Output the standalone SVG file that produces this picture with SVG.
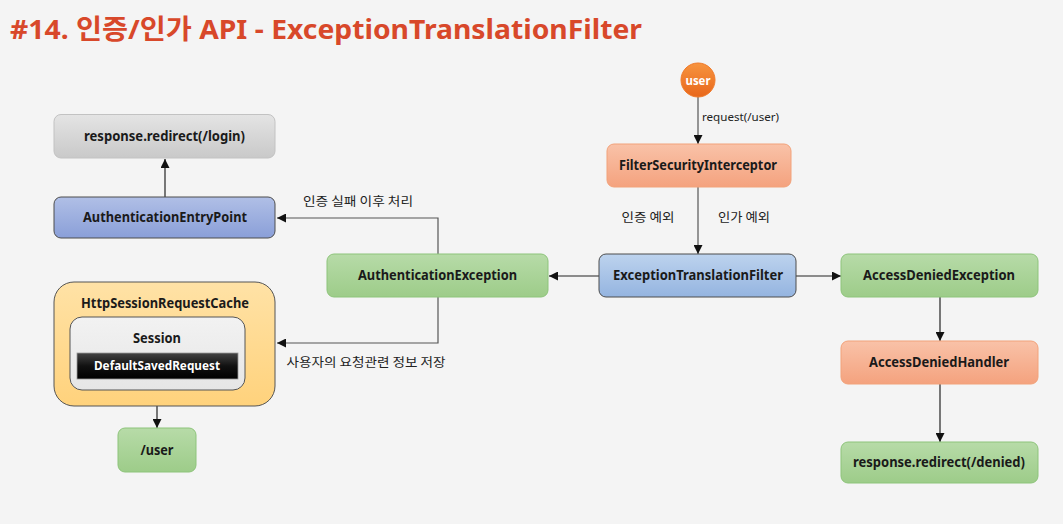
<svg xmlns="http://www.w3.org/2000/svg" width="1063" height="524" viewBox="0 0 1063 524">
<defs>
<linearGradient id="gGray" x1="0" y1="0" x2="0" y2="1"><stop offset="0" stop-color="#e4e4e4"/><stop offset="1" stop-color="#c9c9c9"/></linearGradient>
<linearGradient id="gBlue1" x1="0" y1="0" x2="0" y2="1"><stop offset="0" stop-color="#b0bfe6"/><stop offset="1" stop-color="#8a9fd8"/></linearGradient>
<linearGradient id="gBlue2" x1="0" y1="0" x2="0" y2="1"><stop offset="0" stop-color="#bdd3ee"/><stop offset="1" stop-color="#94b4e0"/></linearGradient>
<linearGradient id="gGreen" x1="0" y1="0" x2="0" y2="1"><stop offset="0" stop-color="#b7dba8"/><stop offset="1" stop-color="#9dcc89"/></linearGradient>
<linearGradient id="gSalmon" x1="0" y1="0" x2="0" y2="1"><stop offset="0" stop-color="#f9c2a8"/><stop offset="1" stop-color="#f4a27e"/></linearGradient>
<linearGradient id="gCache" x1="0" y1="0" x2="0" y2="1"><stop offset="0" stop-color="#ffe2a6"/><stop offset="1" stop-color="#ffd27c"/></linearGradient>
<linearGradient id="gSession" x1="0" y1="0" x2="0" y2="1"><stop offset="0" stop-color="#f2f2f2"/><stop offset="1" stop-color="#e6e6e6"/></linearGradient>
<linearGradient id="gBlack" x1="0" y1="0" x2="0" y2="1"><stop offset="0" stop-color="#444"/><stop offset="0.5" stop-color="#111"/><stop offset="1" stop-color="#000"/></linearGradient>
<linearGradient id="gUser" x1="0" y1="0" x2="0" y2="1"><stop offset="0" stop-color="#f7943f"/><stop offset="1" stop-color="#e8671b"/></linearGradient>
<marker id="arr" viewBox="0 0 10 10" refX="10" refY="5" markerWidth="9" markerHeight="9" markerUnits="userSpaceOnUse" orient="auto">
<path d="M0,0 L10,5 L0,10 z" fill="#111"/>
</marker>
</defs>
<style>
.lbl{font-family:"Noto Sans","Open Sans","Noto Sans CJK KR",sans-serif;font-weight:bold;font-size:13.5px;fill:#1a1a1a;text-anchor:middle}
.kor{font-family:"Noto Sans CJK KR","Noto Sans",sans-serif;font-size:12.5px;fill:#222}
.con{fill:none;stroke:#222;stroke-width:1.2}
.cong{fill:none;stroke:#555;stroke-width:1.2}
.gray{fill:url(#gGray);stroke:#c2c2c2}
.blue1{fill:url(#gBlue1);stroke:#4d4d4d}
.blue2{fill:url(#gBlue2);stroke:#4d4d4d}
.green{fill:url(#gGreen);stroke:#8dc47a}
.salmon{fill:url(#gSalmon);stroke:#f2a27a}
</style>
<rect width="1063" height="524" fill="#f4f4f4"/>
<text x="10" y="39" font-family="'Noto Sans','Noto Sans CJK KR',sans-serif" font-weight="bold" font-size="27" fill="#d8482a" textLength="632" lengthAdjust="spacingAndGlyphs">#14. 인증/인가 API - ExceptionTranslationFilter</text>

<g id="connectors">
<line class="con" x1="165" y1="197" x2="165" y2="159" marker-end="url(#arr)"/>
<polyline class="cong" points="438,254 438,218 277,218" marker-end="url(#arr)"/>
<polyline class="cong" points="438,297 438,343 277,343" marker-end="url(#arr)"/>
<line class="con" x1="157" y1="379" x2="157" y2="428" marker-end="url(#arr)"/>
<line class="cong" x1="698" y1="97" x2="698" y2="144" marker-end="url(#arr)"/>
<line class="cong" x1="698" y1="187" x2="698" y2="254" marker-end="url(#arr)"/>
<line class="con" x1="599" y1="276" x2="549" y2="276" marker-end="url(#arr)"/>
<line class="con" x1="796" y1="276" x2="841" y2="276" marker-end="url(#arr)"/>
<line class="con" x1="940" y1="297" x2="940" y2="341" marker-end="url(#arr)"/>
<line class="con" x1="940" y1="384" x2="940" y2="442" marker-end="url(#arr)"/>
<text class="kor" x="358" y="206" text-anchor="middle" textLength="110" lengthAdjust="spacingAndGlyphs">인증 실패 이후 처리</text>
<text class="kor" x="366" y="367" text-anchor="middle" textLength="159" lengthAdjust="spacingAndGlyphs">사용자의 요청관련 정보 저장</text>
<text x="702" y="121" font-family="'Noto Sans','Open Sans',sans-serif" font-size="11.5" fill="#222" textLength="77" lengthAdjust="spacingAndGlyphs">request(/user)</text>
<text class="kor" x="648" y="222" text-anchor="middle" textLength="53" lengthAdjust="spacingAndGlyphs">인증 예외</text>
<text class="kor" x="744" y="222" text-anchor="middle" textLength="52" lengthAdjust="spacingAndGlyphs">인가 예외</text>
</g>

<g id="node-login">
<rect class="gray" x="54" y="114.5" width="221" height="43.5" rx="7"/>
<text class="lbl" x="164.5" y="141" textLength="161" lengthAdjust="spacingAndGlyphs">response.redirect(/login)</text>
</g>
<g id="node-aep">
<rect class="blue1" x="54" y="197" width="221" height="41" rx="7"/>
<text class="lbl" x="165" y="222" textLength="164" lengthAdjust="spacingAndGlyphs">AuthenticationEntryPoint</text>
</g>
<g id="node-cache">
<rect x="54" y="282" width="221" height="124" rx="20" fill="url(#gCache)" stroke="#555"/>
<text class="lbl" x="165" y="308" textLength="168" lengthAdjust="spacingAndGlyphs">HttpSessionRequestCache</text>
<rect x="70" y="317" width="175" height="73" rx="12" fill="url(#gSession)" stroke="#555"/>
<text class="lbl" x="157" y="343" textLength="48" lengthAdjust="spacingAndGlyphs">Session</text>
<rect x="77" y="353" width="161" height="26" fill="url(#gBlack)" stroke="#999" stroke-width="0.8"/>
<text class="lbl" x="157" y="370" style="fill:#fff;font-size:12px" textLength="126" lengthAdjust="spacingAndGlyphs">DefaultSavedRequest</text>
</g>
<g id="node-user-path">
<rect class="green" x="118" y="428" width="78" height="44" rx="7"/>
<text class="lbl" x="157" y="455" textLength="33" lengthAdjust="spacingAndGlyphs">/user</text>
</g>
<g id="node-authex">
<rect class="green" x="327" y="254" width="221" height="43" rx="7"/>
<text class="lbl" x="437.5" y="280" textLength="159" lengthAdjust="spacingAndGlyphs">AuthenticationException</text>
</g>
<g id="node-etf">
<rect class="blue2" x="599" y="254" width="197" height="43" rx="7"/>
<text class="lbl" x="698" y="280" textLength="170" lengthAdjust="spacingAndGlyphs">ExceptionTranslationFilter</text>
</g>
<g id="node-user">
<circle cx="698" cy="80" r="17" fill="url(#gUser)" stroke="#f07a2a"/>
<text class="lbl" x="698" y="84.5" style="fill:#fff;font-size:12px" textLength="25" lengthAdjust="spacingAndGlyphs">user</text>
</g>
<g id="node-fsi">
<rect class="salmon" x="607" y="144" width="184" height="43" rx="7"/>
<text class="lbl" x="698" y="170" textLength="158" lengthAdjust="spacingAndGlyphs">FilterSecurityInterceptor</text>
</g>
<g id="node-ade">
<rect class="green" x="841" y="254" width="197" height="43" rx="7"/>
<text class="lbl" x="939" y="280" textLength="152" lengthAdjust="spacingAndGlyphs">AccessDeniedException</text>
</g>
<g id="node-adh">
<rect class="salmon" x="841" y="341" width="197" height="43" rx="7"/>
<text class="lbl" x="939" y="367" textLength="140" lengthAdjust="spacingAndGlyphs">AccessDeniedHandler</text>
</g>
<g id="node-denied">
<rect class="green" x="841" y="442" width="197" height="41" rx="7"/>
<text class="lbl" x="939" y="467" textLength="172" lengthAdjust="spacingAndGlyphs">response.redirect(/denied)</text>
</g>
</svg>
